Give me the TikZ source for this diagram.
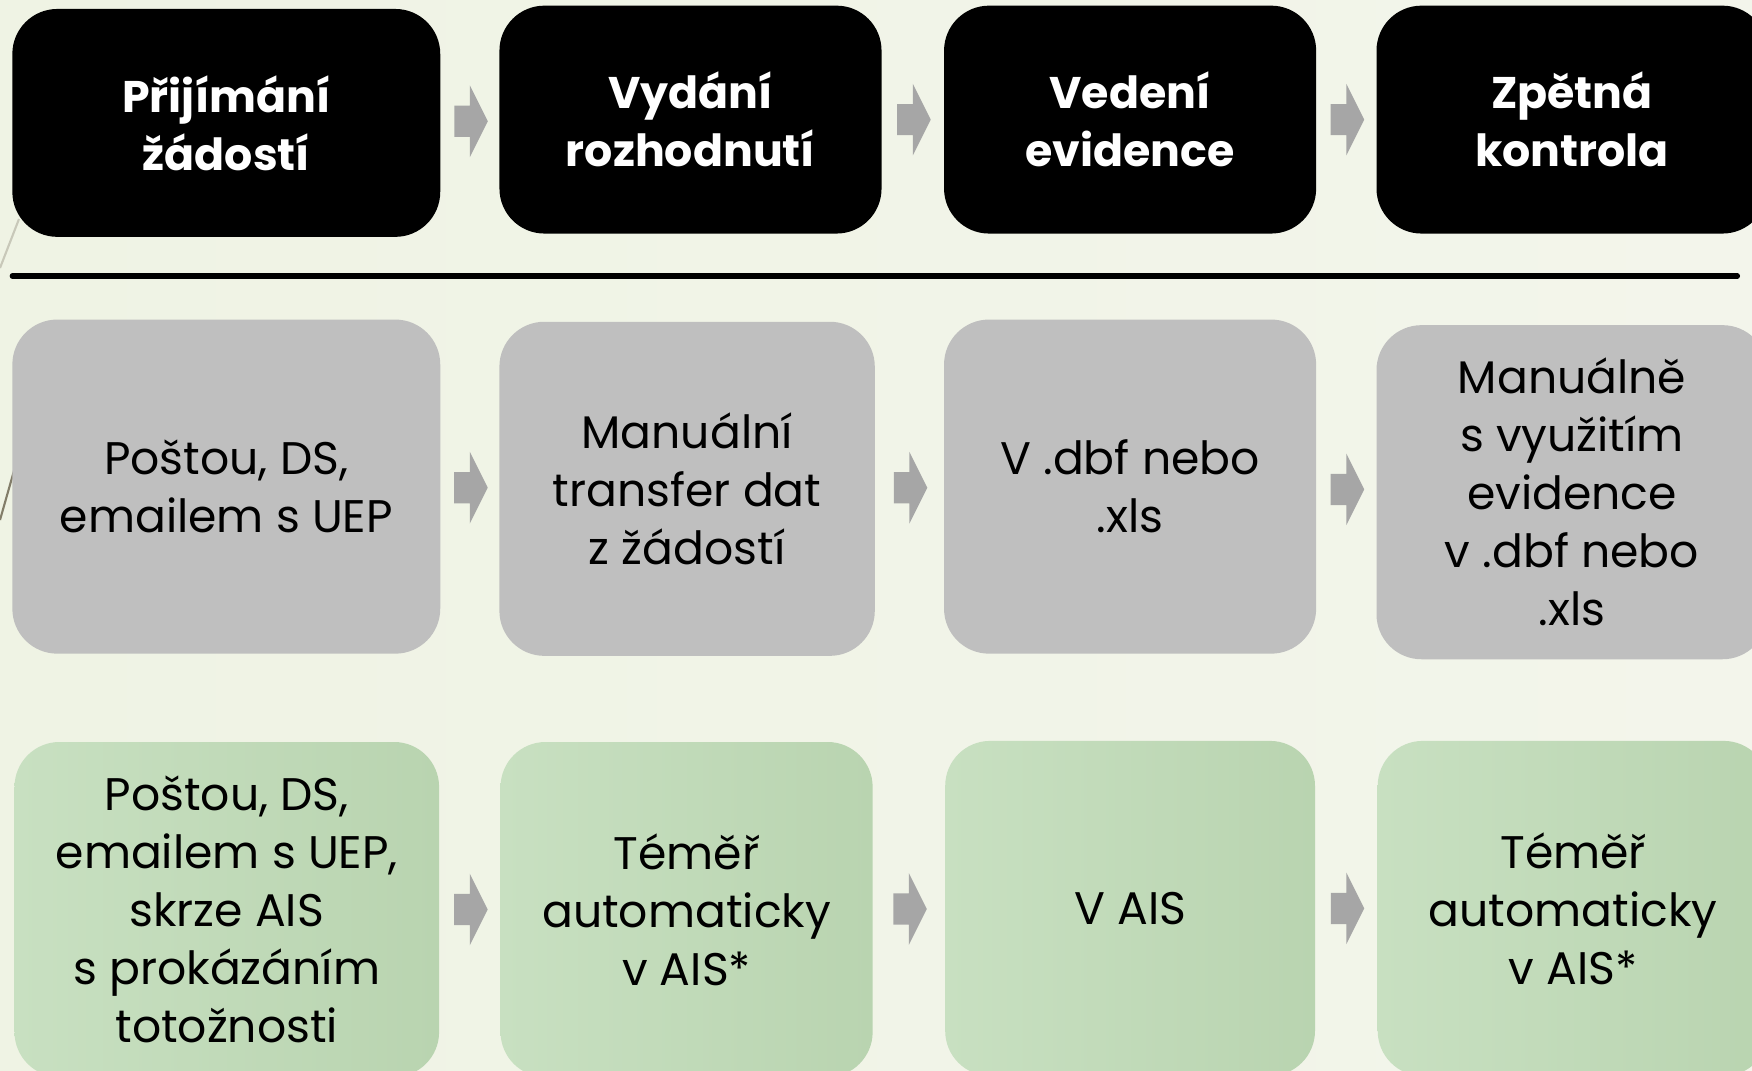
\documentclass[tikz,border=0pt]{standalone}
\usepackage{fontspec}
\setmainfont{Poppins}
\usepackage{tikz}
\usetikzlibrary{calc}
\definecolor{box gray}{rgb}{0.7490, 0.7490, 0.7490}
\definecolor{arrow gray}{rgb}{0.6510, 0.6510, 0.6510}
\definecolor{green light}{rgb}{0.7843, 0.8784, 0.7569}
\definecolor{green dark}{rgb}{0.7255, 0.8314, 0.6902}
\definecolor{bg left}{rgb}{0.9373, 0.9529, 0.8941}
\definecolor{bg middle}{rgb}{0.9843, 0.9882, 0.9725}
\definecolor{bg right}{rgb}{0.9529, 0.9608, 0.9216}
\definecolor{facet light}{rgb}{0.7843, 0.7843, 0.7255}
\definecolor{facet dark}{rgb}{0.5098, 0.4902, 0.4118}
\tikzset{
	stagebox/.style={rectangle, rounded corners=4.5mm, align=center, inner sep=0pt,
		font=\fontsize{13}{16.5}\selectfont},
	headbox/.style={stagebox, fill=black, text=white, minimum height=22.79mm,
		font=\fontsize{12.6}{16.5}\selectfont\bfseries},
	nowbox/.style={stagebox, fill=box gray, minimum height=33.41mm},
	aisbox/.style={stagebox, left color=green light, right color=green dark, minimum height=33.5mm}
}

\begin{document}
\begin{tikzpicture}[x=1mm, y=-1mm]
			\useasboundingbox (0, 0) rectangle (175.2, 107.1);
			\clip (0, 0) rectangle (175.2, 107.1);
			% background
			\shade[left color=bg left, middle color=bg middle, right color=bg right]
				(0, 0) rectangle (175.2, 107.1);
			\draw[facet light, line width=0.6pt] (0, 26.8) -- (1.9, 21.9);
			\draw[facet dark, line width=0.6pt] (0, 52.0) -- (1.45, 46.9);
			% stages
			\node[headbox, minimum width=42.79mm] (p1) at (22.63, 12.29) {Přijímání\\žádostí};
			\node[headbox, minimum width=38.21mm] (p2) at (69.05, 11.96) {Vydání\\rozhodnutí};
			\node[headbox, minimum width=37.21mm] (p3) at (113.01, 11.96) {Vedení\\evidence};
			\node[headbox, minimum width=39.10mm] (p4) at (157.20, 11.96) {Zpětná\\kontrola};
			% separator
			\draw[line width=1.5pt, line cap=round] (1.23, 27.6) -- (173.74, 27.6);
			% current state
			\node[nowbox, minimum width=42.79mm] (s1) at (22.63, 48.66) {Poštou, DS,\\emailem s UEP};
			\node[nowbox, minimum width=37.54mm] (s2) at (68.71, 48.88) {Manuální\\transfer dat\\z žádostí};
			\node[nowbox, minimum width=37.21mm] (s3) at (113.01, 48.66) {V .dbf nebo\\.xls};
			\node[nowbox, minimum width=39.10mm] (s4) at (157.20, 49.22) {Manuálně\\s využitím\\evidence\\v .dbf nebo\\.xls};
			% with AIS
			\node[aisbox, minimum width=42.46mm] (n1) at (22.68, 90.95) {Poštou, DS,\\emailem s UEP,\\skrze AIS\\s prokázáním\\totožnosti};
			\node[aisbox, minimum width=37.21mm] (n2) at (68.66, 90.95) {Téměř\\automaticky\\v AIS*};
			\node[aisbox, minimum width=36.98mm] (n3) at (113.01, 90.84) {V AIS};
			\node[aisbox, minimum width=39.10mm] (n4) at (157.32, 90.84) {Téměř\\automaticky\\v AIS*};
			% arrows between stages
			\foreach \r in {p, s, n}
				\foreach \i/\j in {1/2, 2/3, 3/4}
					\fill[arrow gray] ($(\r\i.east)!0.5!(\r\j.west)$) ++(-1.56, -1.56)
						-- ++(1.56, 0) -- ++(0, -2.02) -- ++(1.79, 3.58) -- ++(-1.79, 3.58)
						-- ++(0, -2.02) -- ++(-1.56, 0) -- cycle;
		\end{tikzpicture}
\end{document}
